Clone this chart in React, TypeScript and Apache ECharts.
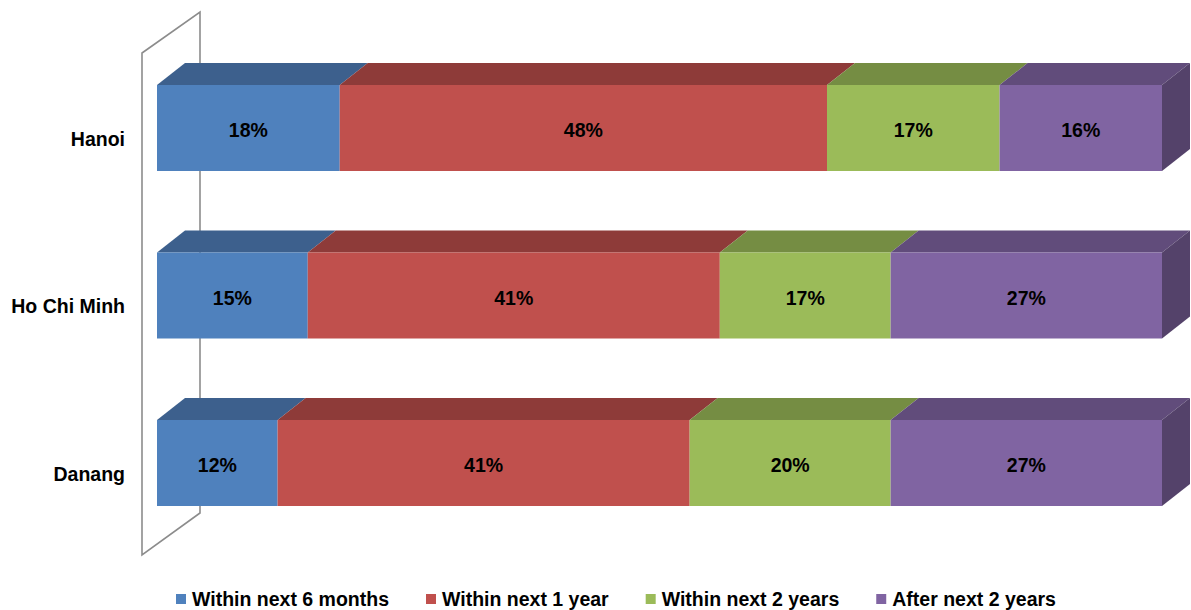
import React, { useEffect, useRef } from "react";
import * as echarts from "echarts";

// Survey: expected timing, by city
const categories = ["Hanoi", "Ho Chi Minh", "Danang"];
const seriesNames = [
  "Within next 6 months",
  "Within next 1 year",
  "Within next 2 years",
  "After next 2 years",
];
const within6Months = [18, 15, 12];
const within1Year = [48, 41, 41];
const within2Years = [17, 17, 20];
const after2Years = [16, 27, 27];

// front face, top face, side face
const palette = [
  { front: "#4F81BD", top: "#3D608D", side: "#34527A" },
  { front: "#C0504D", top: "#8E3B39", side: "#7A3231" },
  { front: "#9BBB59", top: "#758D43", side: "#64793A" },
  { front: "#8064A2", top: "#614C7B", side: "#54426A" },
];

const FONT = "'Liberation Sans', Arial, sans-serif";
const FONT_SIZE = 19.5;
const DEPTH_X = 28;
const DEPTH_Y = 22;
const BAR_RATIO = 0.513;

export default function App() {
  const ref = useRef<HTMLDivElement>(null);

  useEffect(() => {
    if (!ref.current) return;
    const chart = echarts.init(ref.current, undefined, { renderer: "svg" });

    const values = [within6Months, within1Year, within2Years, after2Years];
    const totals = categories.map((_, i) =>
      values.reduce((s, arr) => s + arr[i], 0)
    );

    // 100% stacked: each segment spans [start, end] in percent of its row
    const series = values.map((arr, si) => {
      const data = categories.map((_, ci) => {
        let before = 0;
        for (let k = 0; k < si; k++) before += values[k][ci];
        const start = (before / totals[ci]) * 100;
        const end = ((before + arr[ci]) / totals[ci]) * 100;
        return [start, end, ci, arr[ci]];
      });
      const colors = palette[si];
      const isLast = si === values.length - 1;
      return {
        type: "custom",
        name: seriesNames[si],
        z: 3,
        itemStyle: { color: colors.front },
        encode: { x: [0, 1], y: 2 },
        data,
        renderItem: (params: any, api: any) => {
          const cat = api.value(2);
          const p0 = api.coord([api.value(0), cat]);
          const p1 = api.coord([api.value(1), cat]);
          const band = api.size([0, 1])[1];
          const h = band * BAR_RATIO;
          const x0 = p0[0];
          const x1 = p1[0];
          const yTop = p0[1] - h / 2;
          const yBot = p0[1] + h / 2;
          const children: any[] = [
            {
              type: "polygon",
              shape: {
                points: [
                  [x0, yTop],
                  [x1, yTop],
                  [x1 + DEPTH_X, yTop - DEPTH_Y],
                  [x0 + DEPTH_X, yTop - DEPTH_Y],
                ],
              },
              style: { fill: colors.top },
            },
            {
              type: "rect",
              shape: { x: x0, y: yTop, width: x1 - x0, height: h },
              style: { fill: colors.front },
            },
          ];
          if (isLast) {
            children.push({
              type: "polygon",
              shape: {
                points: [
                  [x1, yTop],
                  [x1 + DEPTH_X, yTop - DEPTH_Y],
                  [x1 + DEPTH_X, yBot - DEPTH_Y],
                  [x1, yBot],
                ],
              },
              style: { fill: colors.side },
            });
          }
          children.push({
            type: "text",
            style: {
              text: api.value(3) + "%",
              x: (x0 + x1) / 2,
              y: p0[1] + 2,
              align: "center",
              verticalAlign: "middle",
              fontSize: FONT_SIZE,
              fontWeight: "bold",
              fontFamily: FONT,
              fill: "#000000",
            },
          });
          return { type: "group", children };
        },
      };
    });

    chart.setOption({
      animation: false,
      backgroundColor: "#ffffff",
      grid: { left: 157, right: 29, top: 44.25, height: 502.5 },
      xAxis: {
        type: "value",
        min: 0,
        max: 100,
        show: false,
      },
      yAxis: {
        type: "category",
        data: categories,
        inverse: true,
        axisLine: { show: false },
        axisTick: { show: false },
        splitLine: { show: false },
        axisLabel: {
          margin: 32,
          fontSize: FONT_SIZE,
          fontWeight: "bold",
          fontFamily: FONT,
          color: "#000000",
          verticalAlign: "top",
          lineHeight: 21,
        },
      },
      legend: {
        left: 176,
        top: 589,
        icon: "rect",
        itemWidth: 10,
        itemHeight: 10,
        itemGap: 37,
        padding: 0,
        data: seriesNames,
        textStyle: {
          fontSize: FONT_SIZE,
          fontWeight: "bold",
          fontFamily: FONT,
          color: "#000000",
          padding: [0, 0, 0, 1],
        },
      },
      graphic: [
        {
          type: "polygon",
          z: 0,
          shape: {
            points: [
              [142, 53],
              [200, 12],
              [200, 513],
              [142, 555],
            ],
          },
          style: { fill: "none", stroke: "#8C8C8C", lineWidth: 1.6 },
        },
      ],
      series,
    });

    return () => chart.dispose();
  }, []);

  return (
    <div
      ref={ref}
      style={{ position: "absolute", left: 0, top: 0, width: 1191, height: 610 }}
    />
  );
}
